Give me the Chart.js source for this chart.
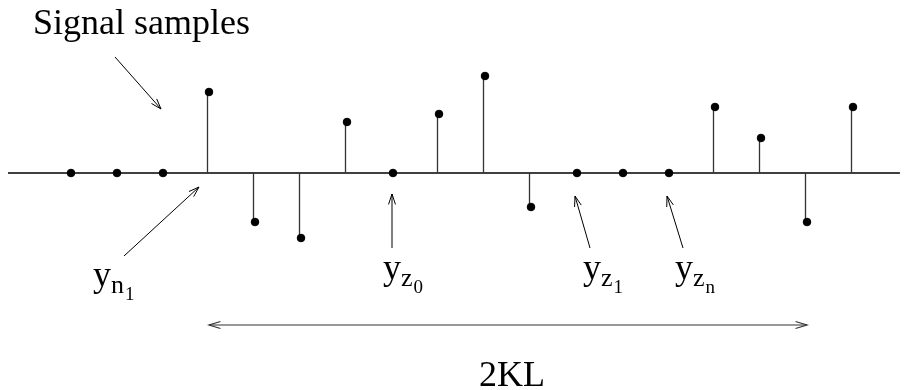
<!DOCTYPE html>
<html>
<head>
<meta charset="utf-8">
<script src="https://cdn.jsdelivr.net/npm/chart.js@4/dist/chart.umd.min.js"></script>
<style>
html,body{margin:0;padding:0;background:#fff;}
#c{display:block;}
</style>
</head>
<body>
<canvas id="c" width="905" height="390"></canvas>
<script>
// sample index (n) and sample amplitudes (arbitrary units)
const sampleIndex = [0,1,2,3,4,5,6,7,8,9,10,11,12,13,14,15,16,17];
const sampleValues = [0,0,0,8.1,-4.9,-6.5,5.1,0,5.9,9.7,-3.4,0,0,0,6.6,3.5,-4.9,6.6];
const titleLabel = "Signal samples";
const spanLabel = "2KL";
const spanFrom = 3, spanTo = 16;

const pts = sampleIndex.map((n,i)=>({x:n, y:sampleValues[i]}));
const SERIF = '"Liberation Serif","DejaVu Serif",serif';

function arrowHead(ctx, x1, y1, x2, y2, len, ang){
  const a = Math.atan2(y2-y1, x2-x1);
  ctx.beginPath();
  ctx.moveTo(x2 - len*Math.cos(a-ang), y2 - len*Math.sin(a-ang));
  ctx.lineTo(x2, y2);
  ctx.lineTo(x2 - len*Math.cos(a+ang), y2 - len*Math.sin(a+ang));
  ctx.stroke();
}
function arrow(ctx, x1, y1, x2, y2){
  ctx.beginPath(); ctx.moveTo(x1,y1); ctx.lineTo(x2,y2); ctx.stroke();
  arrowHead(ctx, x1,y1,x2,y2, 11, 0.32);
}
function drawSub(ctx, x, base, sub, subsub){
  ctx.font = '36px ' + SERIF;
  ctx.fillText('y', x, base);
  const w = ctx.measureText('y').width;
  ctx.font = '26px ' + SERIF;
  ctx.fillText(sub, x + w, base + 7);
  const w2 = ctx.measureText(sub).width;
  ctx.font = '19px ' + SERIF;
  ctx.fillText(subsub, x + w + w2 + 1, base + 14);
}

const annot = {
  id:'annot',
  beforeDatasetsDraw(chart){
    const ctx = chart.ctx, xs = chart.scales.x, ys = chart.scales.y;
    const y0 = ys.getPixelForValue(0);
    ctx.save();
    ctx.strokeStyle = '#000'; ctx.lineWidth = 1.3;
    ctx.beginPath();
    ctx.moveTo(xs.getPixelForValue(-1.37), y0);
    ctx.lineTo(xs.getPixelForValue(18.02), y0);
    ctx.stroke();
    // stems
    ctx.strokeStyle = '#333'; ctx.lineWidth = 1.3;
    pts.forEach(p=>{
      if (p.y === 0) return;
      const px = Math.round(xs.getPixelForValue(p.x)) - 1.5;
      ctx.beginPath();
      ctx.moveTo(px, y0);
      ctx.lineTo(px, ys.getPixelForValue(p.y));
      ctx.stroke();
    });
    ctx.restore();
  },
  afterDatasetsDraw(chart){
    const ctx = chart.ctx, xs = chart.scales.x, ys = chart.scales.y;
    const X = v => xs.getPixelForValue(v);
    const y0 = ys.getPixelForValue(0);
    ctx.save();
    ctx.fillStyle = '#000';
    ctx.strokeStyle = '#000';
    ctx.lineWidth = 1;
    ctx.textBaseline = 'alphabetic';
    ctx.textAlign = 'left';
    ctx.font = '36px ' + SERIF;
    ctx.fillText(titleLabel, 33, 34);
    arrow(ctx, 115, 57, 161, 109);

    const xn1 = X(3);
    arrow(ctx, xn1-85, y0+83, xn1-10, y0+14);
    drawSub(ctx, 93, 286, 'n', '1');
    const xz0 = X(7);
    arrow(ctx, xz0-1, y0+75, xz0-1, y0+21);
    drawSub(ctx, 383, 279, 'z', '0');
    const xz1 = X(11);
    arrow(ctx, xz1+13, y0+75, xz1-2, y0+23);
    drawSub(ctx, 583, 279, 'z', '1');
    const xzn = X(13);
    arrow(ctx, xzn+14, y0+75, xzn-2, y0+23);
    drawSub(ctx, 675, 279, 'z', 'n');

    const ay = 325, ax1 = X(spanFrom), ax2 = X(spanTo);
    ctx.lineWidth = 1.2;
    ctx.strokeStyle = '#333';
    ctx.beginPath(); ctx.moveTo(ax1, ay); ctx.lineTo(ax2, ay); ctx.stroke();
    arrowHead(ctx, ax2, ay, ax1, ay, 12, 0.3);
    arrowHead(ctx, ax1, ay, ax2, ay, 12, 0.3);
    ctx.font = '36px ' + SERIF;
    ctx.fillStyle = '#000';
    ctx.fillText(spanLabel, 479, 386);
    ctx.restore();
  }
};

new Chart(document.getElementById('c'), {
  type: 'scatter',
  data: {
    datasets: [
      {
        data: pts,
        pointRadius: 3.8,
        pointBorderWidth: 1,
        pointBackgroundColor: '#000',
        pointBorderColor: '#000'
      }
    ]
  },
  options: {
    responsive: false,
    animation: false,
    layout: { padding: 0, autoPadding: false },
    plugins: { legend: {display:false}, tooltip: {enabled:false} },
    scales: {
      x: { type:'linear', min: -71/46, max: 834/46, display:false, offset:false },
      y: { type:'linear', min: -21.7, max: 17.3, display:false }
    }
  },
  plugins: [annot]
});
</script>
</body>
</html>
